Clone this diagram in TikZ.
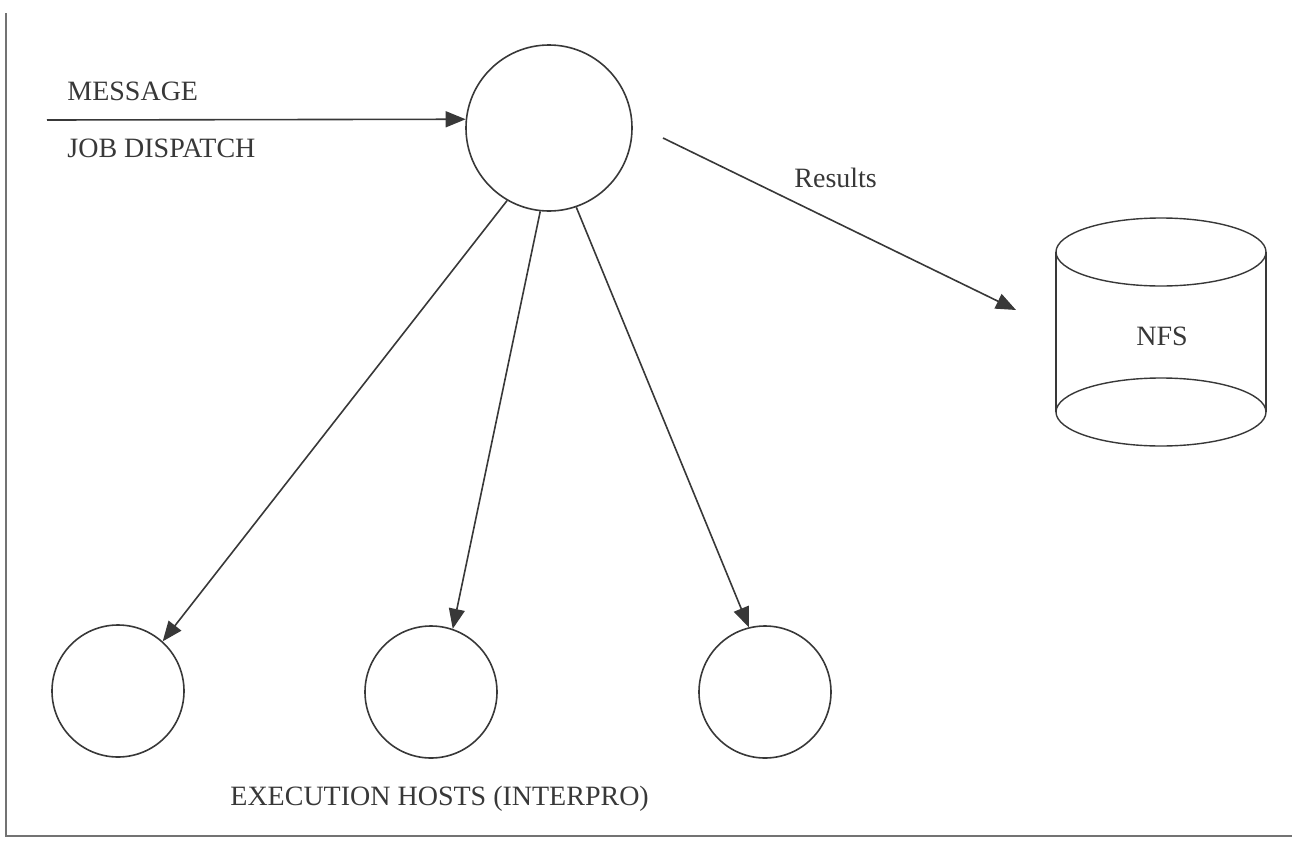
\documentclass[tikz,border=0pt]{standalone}
\usepackage{fontspec}
\setmainfont{Liberation Serif}
\usetikzlibrary{arrows.meta}
\definecolor{ink}{gray}{0.22}
\definecolor{frame}{gray}{0.45}
\begin{document}
\begin{tikzpicture}[x=0.5pt,y=-0.5pt,
  every node/.style={font=\fontsize{14}{17}\selectfont, text=ink},
  lbl/.style={inner sep=0pt, anchor=base west},
  proc/.style={circle, draw=ink, line width=0.8pt, inner sep=0pt},
  conn/.style={draw=ink, line width=0.8pt, -{Triangle[length=10pt,width=8pt]}},
  border/.style={draw=frame, line width=1.4pt}
]
\useasboundingbox (0,0) rectangle (1292,841);
% frame
\coordinate (ftop) at (6,13);
\coordinate (fcorner) at (6,836);
\coordinate (fright) at (1292,836);
\draw[border] (ftop) -- (fcorner) -- (fright);

% nodes
\node[proc, minimum size=83pt] (main) at (549,128) {};
\node[proc, minimum size=66pt] (h1) at (118,691) {};
\node[proc, minimum size=66pt] (h2) at (431,692) {};
\node[proc, minimum size=66pt] (h3) at (765,692) {};

% NFS cylinder
\node[inner sep=0pt] (nfs) at (1162,336) {NFS};
\draw[ink, line width=0.7pt] (1161,252) ellipse [x radius=105, y radius=34];
\draw[ink, line width=0.7pt] (1161,412) ellipse [x radius=105, y radius=34];
\draw[ink, line width=0.7pt] (1056,252) -- (1056,412);
\draw[ink, line width=0.7pt] (1266,252) -- (1266,412);

% labels
\node[lbl] (msg) at (67,100) {MESSAGE};
\node[lbl] (job) at (67,157) {JOB DISPATCH};
\node[lbl] (res) at (794,187) {Results};
\node[lbl] (exec) at (230,805) {EXECUTION HOSTS (INTERPRO)};

% connectors
\coordinate (msgstart) at (47,120);
\draw[conn] (msgstart) -- (main.174.5);
\coordinate (rstart) at (663,138);
\coordinate (rend) at (1016,310);
\draw[conn] (rstart) -- (rend);
\draw[conn] (main.240) -- (h1.48);
\draw[conn] (main.264) -- (h2.71);
\draw[conn] (main.289) -- (h3.104);
\end{tikzpicture}
\end{document}
